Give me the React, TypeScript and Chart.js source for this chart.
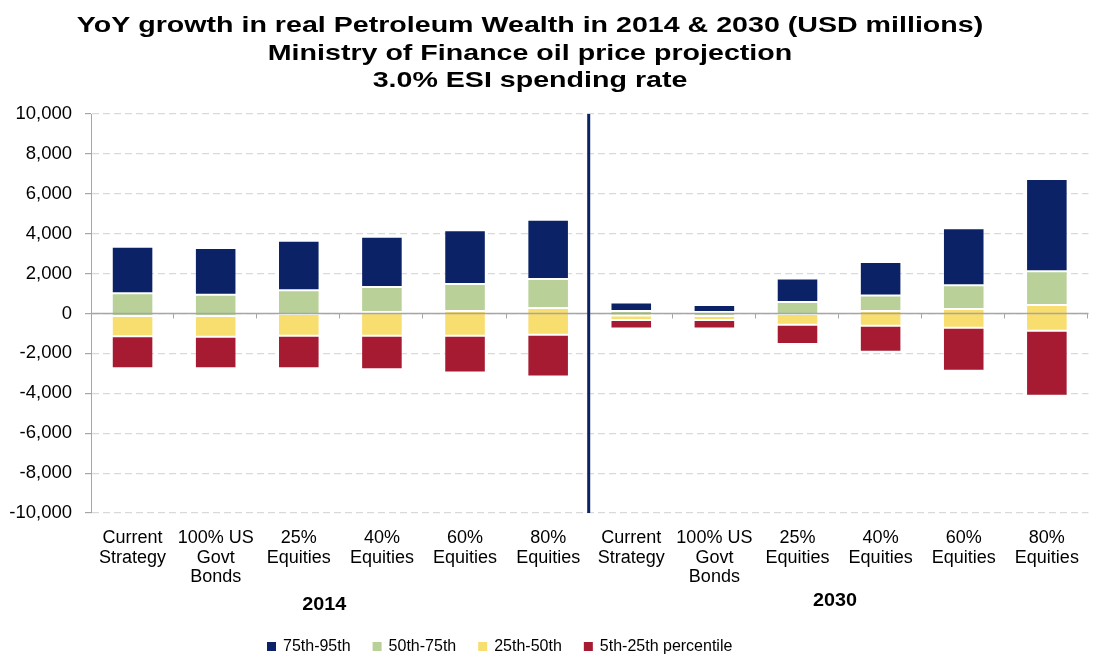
import React, { useEffect, useRef } from "react";
import { Chart, registerables } from "chart.js";

Chart.register(...registerables);

const FONT = "'Liberation Sans', Arial, Helvetica, sans-serif";

const titleLines = [
  "YoY growth in real Petroleum Wealth in 2014 & 2030 (USD millions)",
  "Ministry of Finance oil price projection",
  "3.0% ESI spending rate",
];

const categories: string[][] = [
  ["Current", "Strategy"],
  ["100% US", "Govt", "Bonds"],
  ["25%", "Equities"],
  ["40%", "Equities"],
  ["60%", "Equities"],
  ["80%", "Equities"],
  ["Current", "Strategy"],
  ["100% US", "Govt", "Bonds"],
  ["25%", "Equities"],
  ["40%", "Equities"],
  ["60%", "Equities"],
  ["80%", "Equities"],
];

const groupLabels = ["2014", "2030"];

const seriesNames = ["75th-95th", "50th-75th", "25th-50th", "5th-25th percentile"];
const seriesColors = ["#0c2266", "#b9d198", "#f8dd6f", "#a61a32"];

// percentile boundaries (USD millions)
const p95 = [3340, 3280, 3650, 3850, 4170, 4700, 550, 430, 1750, 2580, 4270, 6740];
const p75 = [1010, 940, 1160, 1330, 1480, 1730, 120, 70, 580, 900, 1420, 2120];
const p50 = [-130, -130, -20, 70, 120, 270, -100, -120, -30, 120, 230, 430];
const p25 = [-1140, -1160, -1110, -1110, -1110, -1060, -320, -330, -570, -620, -720, -870];
const p5 = [-2740, -2740, -2740, -2790, -2960, -3160, -750, -750, -1530, -1920, -2870, -4120];

const yMin = -10000;
const yMax = 10000;
const yStep = 2000;

const bands = [
  [p75, p95],
  [p50, p75],
  [p25, p50],
  [p5, p25],
];

function stretchedText(ctx: CanvasRenderingContext2D, text: string, x: number, y: number, sx: number) {
  ctx.save();
  ctx.translate(x, y);
  ctx.scale(sx, 1);
  ctx.fillText(text, 0, 0);
  ctx.restore();
}

const overlayPlugin = {
  id: "overlayPlugin",
  afterDatasetsDraw(chart: any) {
    const { ctx, chartArea, scales } = chart;
    const y = scales.y;
    const n = categories.length;
    const w = (chartArea.right - chartArea.left) / n;
    const y0 = y.getPixelForValue(0);
    ctx.save();
    ctx.strokeStyle = "#a6a6a6";
    ctx.lineWidth = 1.5;
    ctx.beginPath();
    ctx.moveTo(chartArea.left, y0);
    ctx.lineTo(chartArea.right, y0);
    ctx.stroke();
    ctx.lineWidth = 1;
    for (let i = 1; i <= n; i++) {
      const bx = Math.round(chartArea.left + i * w) - 0.5;
      ctx.beginPath();
      ctx.moveTo(bx, y0);
      ctx.lineTo(bx, y0 + 5);
      ctx.stroke();
    }
    const sx = chartArea.left + (n / 2) * w;
    ctx.strokeStyle = "#0c2266";
    ctx.lineWidth = 3;
    ctx.beginPath();
    ctx.moveTo(sx - 1, chartArea.top);
    ctx.lineTo(sx - 1, chartArea.bottom);
    ctx.stroke();
    ctx.restore();
  },
  afterDraw(chart: any) {
    const { ctx, scales } = chart;
    const x = scales.x;
    ctx.save();
    ctx.fillStyle = "#000";
    ctx.textAlign = "center";
    ctx.textBaseline = "alphabetic";
    ctx.font = `bold 22px ${FONT}`;
    const tY = [32, 59.5, 87];
    titleLines.forEach((t, i) => stretchedText(ctx, t, 530, tY[i], 1.3));
    ctx.textBaseline = "middle";
    ctx.font = `bold 18px ${FONT}`;
    const g1 = (x.getPixelForValue(2) + x.getPixelForValue(3)) / 2 - 16;
    const g2 = (x.getPixelForValue(8) + x.getPixelForValue(9)) / 2 - 4;
    stretchedText(ctx, groupLabels[0], g1, 605, 1.1);
    stretchedText(ctx, groupLabels[1], g2, 601, 1.1);
    ctx.font = `16px ${FONT}`;
    ctx.textAlign = "left";
    let lx = 267;
    const ly = 647;
    seriesNames.forEach((name, i) => {
      ctx.fillStyle = seriesColors[i];
      ctx.fillRect(lx, ly - 5, 9, 9);
      ctx.fillStyle = "#000";
      ctx.fillText(name, lx + 16, ly);
      lx += 16 + ctx.measureText(name).width + 22;
    });
    ctx.restore();
  },
};

export default function App() {
  const ref = useRef<HTMLCanvasElement | null>(null);

  useEffect(() => {
    document.body.style.margin = "0";
    const canvas = ref.current;
    if (!canvas) return;
    const chart = new Chart(canvas, {
      type: "bar",
      data: {
        labels: categories as any,
        datasets: bands.map(([lo, hi], k) => ({
          label: seriesNames[k],
          data: lo.map((v, i) => [v, hi[i]]) as any,
          backgroundColor: seriesColors[k],
          borderColor: "rgba(255,255,255,0.35)",
          borderWidth: 1,
          borderSkipped: false,
          barPercentage: 0.5,
          categoryPercentage: 1,
        })),
      },
      options: {
        animation: false,
        responsive: false,
        maintainAspectRatio: false,
        layout: { padding: { top: 114, right: 3, bottom: 0, left: 0 } },
        plugins: {
          legend: { display: false },
          title: { display: false },
          tooltip: { enabled: false },
        },
        scales: {
          x: {
            stacked: true,
            grid: { display: false, drawTicks: false },
            border: { display: false },
            ticks: {
              autoSkip: false,
              maxRotation: 0,
              minRotation: 0,
              padding: 15,
              color: "#000",
              font: { family: FONT, size: 18, lineHeight: 1.1 },
            },
            afterFit: (scale: any) => {
              scale.height = 142;
            },
          },
          y: {
            stacked: false,
            min: yMin,
            max: yMax,
            ticks: {
              stepSize: yStep,
              padding: 13,
              color: "#000",
              font: { family: FONT, size: 18.5 },
              callback: (v: any) => Number(v).toLocaleString("en-US"),
            },
            grid: {
              color: "#d9d9d9",
              lineWidth: 1.2,
              tickLength: 6,
              tickColor: "#a6a6a6",
              tickBorderDash: [],
            },
            border: { display: true, color: "#a6a6a6", width: 1, dash: [7, 4] },
            afterFit: (scale: any) => {
              scale.width = 91;
            },
          },
        },
      },
      plugins: [overlayPlugin],
    });
    return () => chart.destroy();
  }, []);

  return (
    <div style={{ width: 1094, height: 655, background: "#fff" }}>
      <canvas ref={ref} width={1094} height={655} style={{ display: "block" }} />
    </div>
  );
}
